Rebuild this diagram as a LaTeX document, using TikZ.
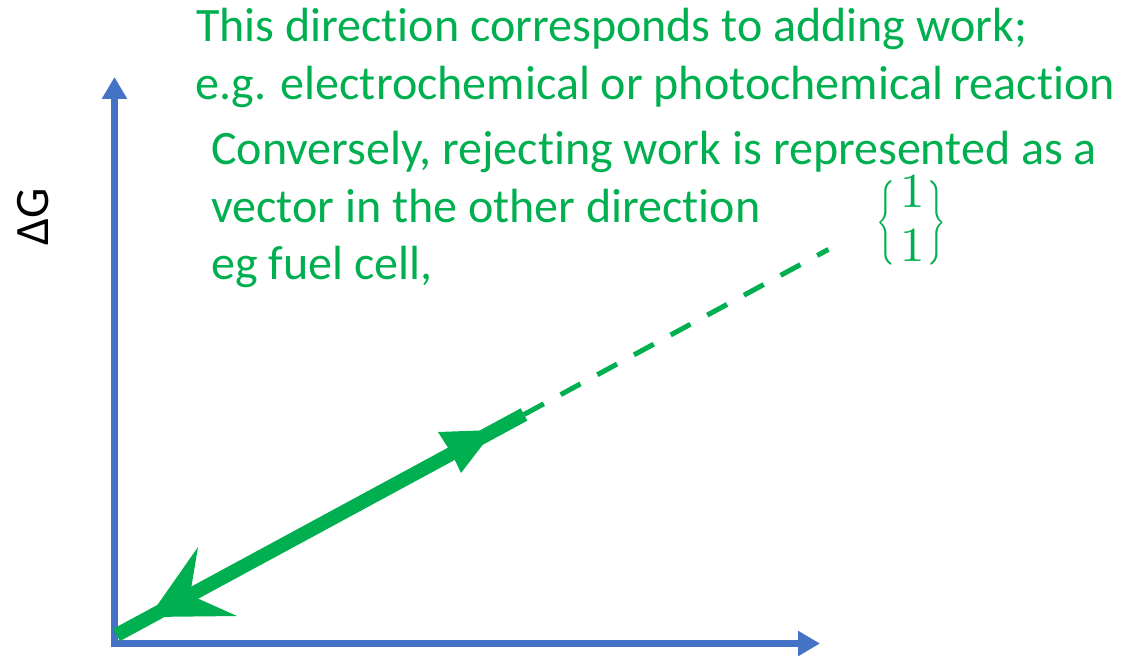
\documentclass[tikz,border=0pt]{standalone}
\usepackage{fontspec}
\setmainfont{Carlito}[Ligatures=NoCommon]
\usepackage{amsmath}
\usepackage{graphicx}
\usetikzlibrary{arrows.meta}
\definecolor{ogreen}{HTML}{00B050}
\definecolor{oblue}{HTML}{4472C4}
\tikzset{
  axisline/.style={draw=oblue, line width=7.5pt, -{Triangle[length=22pt,width=24pt]}},
  vecline/.style={draw=ogreen, line width=14pt, line cap=butt},
  dashline/.style={draw=ogreen, line width=5pt, dash pattern=on 22.5pt off 19.2pt},
  headfill/.style={fill=ogreen, draw=none},
  lbl/.style={text=ogreen, font=\fontsize{48}{58}\selectfont, inner sep=0pt, anchor=base west},
}
\begin{document}
\begin{tikzpicture}[x=1pt,y=-1pt]
\fill[white] (0,0) rectangle (1130,660);
\useasboundingbox (0,0) rectangle (1130,660);
% axes
\coordinate (Ob) at (114.5,647);
\coordinate (Ol) at (111,643.5);
\coordinate (Ytip) at (114.5,77);
\coordinate (Xtip) at (820,643.5);
\draw[axisline] (Ob) -- (Ytip);
\draw[axisline] (Ol) -- (Xtip);
% green vector
\coordinate (O) at (116.5,635);
\coordinate (E) at (524,414.5);
\coordinate (D) at (828.5,249.4);
\draw[vecline] (O) -- (E);
\draw[dashline] (E) -- (D);
\fill[headfill] (149,617) -- (198,547) -- (190,595) -- (237,616) -- cycle;
\fill[headfill] (494,430) -- (438,432) -- (452,454) -- (461,473) -- cycle;
% texts
\node[lbl] (t1) at (196,42) {This direction corresponds to adding work;};
\node[lbl] (t2) at (195,100) {e.g. electrochemical or photochemical reaction};
\node[lbl] (t3) at (211,165) {Conversely, rejecting work is represented as a};
\node[lbl] (t4) at (211,223) {vector in the other direction};
\node[lbl] (t5) at (211,280) {eg fuel cell,};
\node[font=\fontsize{48}{58}\selectfont, rotate=90, anchor=base, inner sep=0pt] (dg) at (48,217) {ΔG};
\node[text=ogreen, inner sep=0pt] (m) at (911,225) {\raisebox{0pt}[52pt][32pt]{\scalebox{2.8}[4.7]{$\Big\{$}\hspace{6pt}\scalebox{4.9}{$\begin{matrix}1\\[-0.8pt]1\end{matrix}$}\hspace{2pt}\scalebox{2.8}[4.7]{$\Big\}$}}};
\end{tikzpicture}
\end{document}
